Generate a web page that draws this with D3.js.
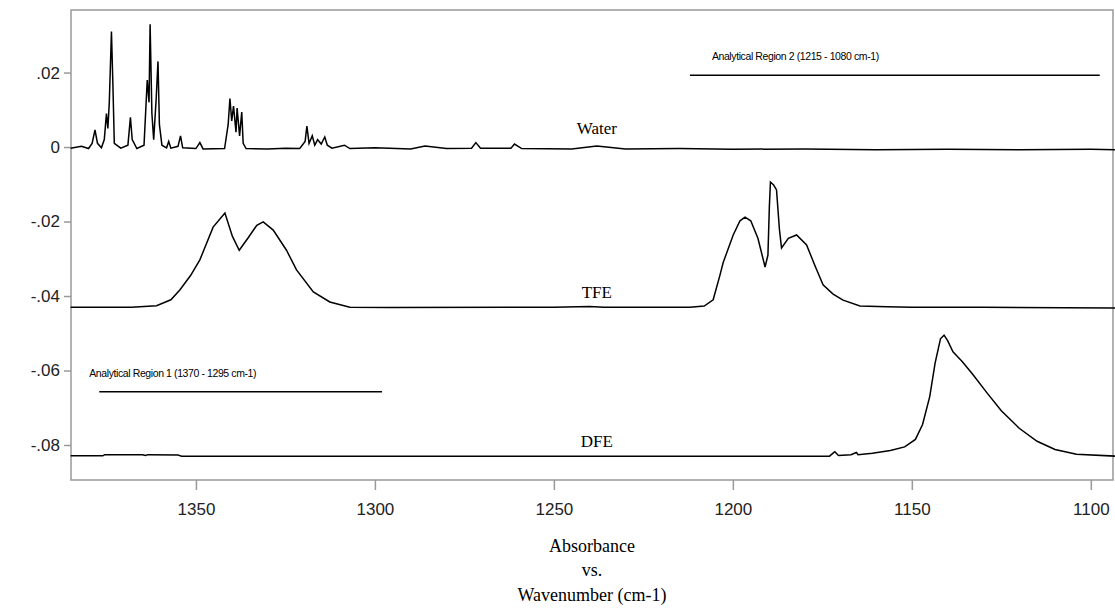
<!DOCTYPE html>
<html><head><meta charset="utf-8">
<script src="https://cdn.jsdelivr.net/npm/d3@7"></script>
<style>body{margin:0;background:#fff}</style></head>
<body><svg id="c" width="1115" height="612"></svg>
<script>
const xTicks=[1350,1300,1250,1200,1150,1100];
const yTicks=[0.02,0,-0.02,-0.04,-0.06,-0.08];
const yTickLabels=[".02","0","-.02","-.04","-.06","-.08"];
const water=[[1385,-0.0003],[1382,0.0002],[1380,-0.0004],[1379,0.001],[1378.2,0.0046],[1377.5,0.001],[1376.4,-0.0002],[1375.6,0.002],[1375,0.009],[1374.6,0.005],[1374.2,0.012],[1373.6,0.031],[1373.2,0.017],[1372.8,0.001],[1371,-0.0003],[1369,0.0005],[1368.3,0.008],[1367.8,0.002],[1366.5,-0.0004],[1364.5,0.0005],[1363.6,0.018],[1363.1,0.012],[1362.8,0.033],[1362.3,0.009],[1361.8,0.002],[1361.1,0.013],[1360.6,0.023],[1360.2,0.006],[1359.5,0.0005],[1358.2,-0.0002],[1357.6,0.0015],[1357,-0.0003],[1355,0.0002],[1354.3,0.003],[1353.7,-0.0002],[1350,-0.0004],[1348.9,0.0012],[1348,-0.0005],[1342,-0.0004],[1341,0.006],[1340.5,0.013],[1340,0.007],[1339.5,0.011],[1338.8,0.004],[1338.5,0.0105],[1337.8,0.003],[1337.2,0.0094],[1336.8,0.001],[1336,-0.0004],[1330,-0.0005],[1325,-0.0003],[1321,-0.0004],[1319.5,0.0015],[1319,0.0056],[1318.4,0.001],[1317.5,0.003],[1316.8,0.0005],[1316,0.002],[1315,0.0008],[1314,0.0027],[1313.3,0.0005],[1312,-0.0003],[1308.5,0.0005],[1307,-0.0004],[1300,-0.0002],[1290,-0.0005],[1286,0.0003],[1280,-0.0004],[1273,-0.0003],[1271.8,0.0012],[1270.5,-0.0003],[1262,-0.0003],[1261,0.0008],[1259,-0.0004],[1245,-0.0005],[1238,0.0003],[1230,-0.0005],[1215,-0.0004],[1200,-0.0006],[1180,-0.0005],[1160,-0.0007],[1140,-0.0006],[1120,-0.0007],[1100,-0.0006],[1093,-0.0007]];
const tfe=[[1385,-0.043],[1368,-0.043],[1361,-0.0426],[1357,-0.041],[1354.5,-0.0384],[1351.5,-0.0345],[1348.9,-0.0303],[1345.2,-0.0215],[1341.9,-0.0177],[1339.8,-0.024],[1337.9,-0.0277],[1335.5,-0.0245],[1333,-0.021],[1331.2,-0.0201],[1328.4,-0.0223],[1324.7,-0.0277],[1321.9,-0.033],[1317.2,-0.0389],[1312.6,-0.0416],[1307,-0.043],[1296,-0.0431],[1250,-0.043],[1240,-0.0428],[1236,-0.043],[1212,-0.043],[1208,-0.0427],[1205.5,-0.041],[1203.6,-0.0344],[1202.7,-0.031],[1199.9,-0.0236],[1198,-0.0198],[1196.6,-0.0188],[1195,-0.0198],[1193,-0.0245],[1191,-0.0322],[1190.2,-0.029],[1189.8,-0.016],[1189.5,-0.0094],[1188.6,-0.0102],[1187.8,-0.0115],[1187,-0.022],[1186.4,-0.0271],[1184.5,-0.0245],[1182.2,-0.0236],[1179.4,-0.0263],[1177,-0.032],[1174.8,-0.037],[1172,-0.0395],[1169.2,-0.0411],[1164.5,-0.0427],[1157,-0.0429],[1150,-0.043],[1130,-0.043],[1093,-0.0432]];
const dfe=[[1385,-0.0829],[1376,-0.0829],[1375.5,-0.0826],[1365,-0.0826],[1364,-0.0828],[1363.5,-0.0826],[1355,-0.0827],[1354,-0.083],[1300,-0.083],[1250,-0.083],[1200,-0.083],[1173,-0.083],[1172,-0.0822],[1171.5,-0.0818],[1170.5,-0.0828],[1167,-0.0826],[1165.5,-0.082],[1165,-0.0826],[1161,-0.0822],[1156,-0.0815],[1152,-0.0805],[1149,-0.0785],[1147,-0.0745],[1145,-0.067],[1143.5,-0.058],[1142,-0.0515],[1141,-0.0505],[1140,-0.052],[1138.5,-0.055],[1137,-0.0565],[1136,-0.0575],[1133,-0.061],[1129,-0.066],[1125,-0.0708],[1120,-0.0755],[1115,-0.079],[1110,-0.0812],[1104,-0.0825],[1093,-0.083]];
const seriesLabels=[{t:"Water",x:1238,y:0.0035},{t:"TFE",x:1238,y:-0.0405},{t:"DFE",x:1238,y:-0.0805}];
const regions=[{t:"Analytical Region 2  (1215 - 1080 cm-1)",x1:1212,x2:1097.5,y:0.0193,dx:22},{t:"Analytical Region 1  (1370 - 1295 cm-1)",x1:1377,x2:1298,y:-0.0657,dx:-10}];
const titleLines=["Absorbance","vs.","Wavenumber (cm-1)"];

const svg=d3.select("#c");
const L=71,R=1113,T=10,B=480;
const x=d3.scaleLinear().domain([1384.9,1093.8]).range([L,R]);
const y=d3.scaleLinear().domain([0.0368,-0.0894]).range([T,B]);
svg.append("rect").attr("x",L).attr("y",T).attr("width",R-L).attr("height",B-T).attr("fill","none").attr("stroke","#999").attr("stroke-width",1.5);
const xa=svg.append("g").attr("transform",`translate(0,${B})`).call(d3.axisBottom(x).tickValues(xTicks).tickSize(10).tickSizeOuter(0).tickFormat(d3.format("d")));
xa.select(".domain").remove();
xa.selectAll("line").attr("stroke","#999").attr("stroke-width",1.5);
xa.selectAll("text").attr("font-family","Liberation Sans, Arial").attr("font-size",17).attr("fill","#222").attr("dy","1.3em");
const ya=svg.append("g").attr("transform",`translate(${L},0)`).call(d3.axisLeft(y).tickValues(yTicks).tickSize(7).tickFormat((d,i)=>yTickLabels[i]));
ya.select(".domain").remove();
ya.selectAll("line").attr("stroke","#999").attr("stroke-width",1.5);
ya.selectAll("text").attr("font-family","Liberation Sans, Arial").attr("font-size",17).attr("fill","#222").attr("x",-11);
const line=d3.line().x(d=>x(d[0])).y(d=>y(d[1]));
[water,tfe,dfe].forEach(s=>svg.append("path").datum(s).attr("d",line).attr("fill","none").attr("stroke","#000").attr("stroke-width",1.5));
seriesLabels.forEach(s=>svg.append("text").attr("x",x(s.x)).attr("y",y(s.y)).attr("text-anchor","middle").attr("font-family","Liberation Serif, Times New Roman").attr("font-size",17).text(s.t));
regions.forEach(r=>{
 svg.append("line").attr("x1",x(r.x1)).attr("x2",x(r.x2)).attr("y1",y(r.y)).attr("y2",y(r.y)).attr("stroke","#000").attr("stroke-width",1.5);
 svg.append("text").attr("x",x(r.x1)+r.dx).attr("y",y(r.y)-15).attr("font-family","Liberation Sans, Arial").attr("font-size",10.5).attr("letter-spacing","-0.4").text(r.t);
});
titleLines.forEach((t,i)=>svg.append("text").attr("x",592).attr("y",[552,576,601][i]).attr("text-anchor","middle").attr("font-family","Liberation Serif, Times New Roman").attr("font-size",18).text(t));
</script></body></html>
